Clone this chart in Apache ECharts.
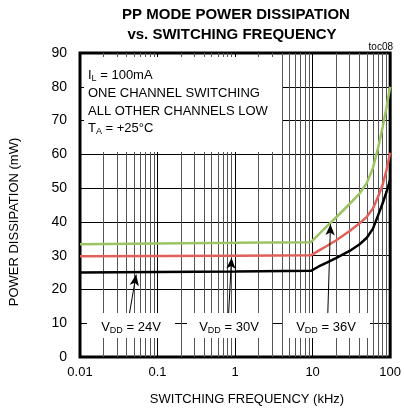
<!DOCTYPE html>
<html><head><meta charset="utf-8">
<script src="https://cdn.jsdelivr.net/npm/echarts@6/dist/echarts.min.js"></script>
<style>html,body{margin:0;padding:0;background:#fff}#c{width:404px;height:416px}</style>
</head><body><div id="c"></div>
<script>
// ---- data ----
var freq = [0.01, 0.1, 1, 9.5, 12, 15, 20, 30, 40, 50, 60, 70, 80, 90, 100];
var vdd24 = [25.0, 25.2, 25.3, 25.5, 26.8, 27.9, 29.3, 31.4, 33.3, 35.3, 38.0, 42.0, 45.5, 49.0, 52.5];
var vdd30 = [29.8, 29.9, 30.0, 30.1, 31.5, 32.8, 34.5, 37.3, 39.5, 41.5, 44.0, 47.5, 51.0, 55.5, 60.5];
var vdd36 = [33.4, 33.6, 33.8, 34.0, 36.3, 38.5, 41.3, 45.3, 48.3, 51.5, 56.0, 62.0, 68.0, 74.0, 80.0];
var xTickLabels = ['0.01', '0.1', '1', '10', '100'];
var yTickLabels = ['0', '10', '20', '30', '40', '50', '60', '70', '80', '90'];
var seriesNames = ['VDD = 24V', 'VDD = 30V', 'VDD = 36V'];
// arrows: [startFreq, startVal, tipFreq, tipVal]
var arrows = [[0.0435, 13, 0.053, 24.4], [0.826, 13, 0.9, 29.4], [15.7, 13, 17.0, 39.3]];

var FONT = 'Liberation Sans, Arial, sans-serif';
function zip(xs, ys) { return xs.map(function (x, i) { return [x, ys[i]]; }); }

// minor log grid positions (2..9 per decade)
var minorLines = [];
[0.01, 0.1, 1, 10].forEach(function (d) {
  for (var k = 2; k <= 9; k++) minorLines.push({ xAxis: +(d * k).toPrecision(3) });
});

var chart = echarts.init(document.getElementById('c'), null, { renderer: 'canvas' });
var rich = { sub: { fontSize: 9, fontFamily: FONT, color: '#000', padding: [7, 0, 0, 0] } };

function txt(text, x, y, opts) {
  opts = opts || {};
  return {
    type: 'text', z: 120, x: x, y: y, rotation: opts.rot || 0,
    style: {
      text: text, fill: '#000', font: (opts.bold ? 'bold ' : '') + (opts.size || 13) + 'px ' + FONT,
      align: opts.align || 'left', verticalAlign: 'middle', rich: opts.rich
    }
  };
}
function box(x, y, w, h) {
  return { type: 'rect', z: 100, z2: 100, shape: { x: x, y: y, width: w, height: h }, style: { fill: '#fff', stroke: null } };
}

var option = {
  backgroundColor: '#fff',
  animation: false,
  grid: { left: 80, right: 11, top: 53, bottom: 59, show: true, borderColor: '#000', borderWidth: 3, backgroundColor: 'transparent', z: 0 },
  xAxis: {
    type: 'log', logBase: 10, min: 0.01, max: 100, z: 0,
    axisLine: { show: false }, axisTick: { show: false },
    splitLine: { show: true, lineStyle: { color: '#000', width: 1 } },
    axisLabel: {
      margin: 9, color: '#000', fontSize: 13, fontFamily: FONT,
      formatter: function (v) { return xTickLabels[Math.round(Math.log10(v)) + 2]; }
    }
  },
  yAxis: {
    type: 'value', min: 0, max: 90, interval: 10, z: 0,
    axisLine: { show: false }, axisTick: { show: false },
    splitLine: { show: true, lineStyle: { color: '#000', width: 1 } },
    axisLabel: {
      margin: 13, color: '#000', fontSize: 14, fontFamily: FONT,
      formatter: function (v) { return yTickLabels[Math.round(v / 10)]; }
    }
  },
  series: [
    {
      type: 'line', z: 1, data: [], silent: true,
      markLine: { z: 1, silent: true, symbol: 'none', label: { show: false }, animation: false,
        lineStyle: { color: '#555', width: 1, type: 'solid' }, data: minorLines }
    },
    { name: seriesNames[0], type: 'line', z: 105, data: zip(freq, vdd24), showSymbol: false, lineStyle: { color: '#000', width: 2.5 } },
    { name: seriesNames[1], type: 'line', z: 105, data: zip(freq, vdd30), showSymbol: false, lineStyle: { color: '#E0605A', width: 2.5 } },
    { name: seriesNames[2], type: 'line', z: 105, data: zip(freq, vdd36), showSymbol: false, lineStyle: { color: '#9CC463', width: 2.5 } },
    {
      type: 'line', z: 110, data: [], silent: true,
      markLine: {
        z: 110, silent: true, symbol: ['none', 'arrow'], symbolSize: [7, 11], label: { show: false }, animation: false,
        lineStyle: { color: '#000', width: 1, type: 'solid' },
        data: arrows.map(function (a) { return [{ coord: [a[0], a[1]] }, { coord: [a[2], a[3]] }]; })
      }
    }
  ],
  graphic: {
    elements: [
      box(84, 57, 198, 95),
      box(87, 313, 88, 25),
      box(187, 313, 85, 25),
      box(283, 313, 87, 25),
      txt('PP MODE POWER DISSIPATION', 236, 15, { bold: true, size: 15, align: 'center' }),
      txt('vs. SWITCHING FREQUENCY', 232, 35, { bold: true, size: 15, align: 'center' }),
      txt('toc08', 393, 47, { size: 10, align: 'right' }),
      txt('I{sub|L} = 100mA', 88, 75, { rich: rich }),
      txt('ONE CHANNEL SWITCHING', 88, 93),
      txt('ALL OTHER CHANNELS LOW', 88, 111),
      txt('T{sub|A} = +25°C', 88, 128, { rich: rich }),
      txt('V{sub|DD} = 24V', 131, 327, { rich: rich, align: 'center' }),
      txt('V{sub|DD} = 30V', 229, 327, { rich: rich, align: 'center' }),
      txt('V{sub|DD} = 36V', 326, 327, { rich: rich, align: 'center' }),
      txt('SWITCHING FREQUENCY (kHz)', 247, 399, { align: 'center' }),
      txt('POWER DISSIPATION (mW)', 14, 222, { align: 'center', rot: Math.PI / 2 })
    ]
  }
};
chart.setOption(option);
</script></body></html>
